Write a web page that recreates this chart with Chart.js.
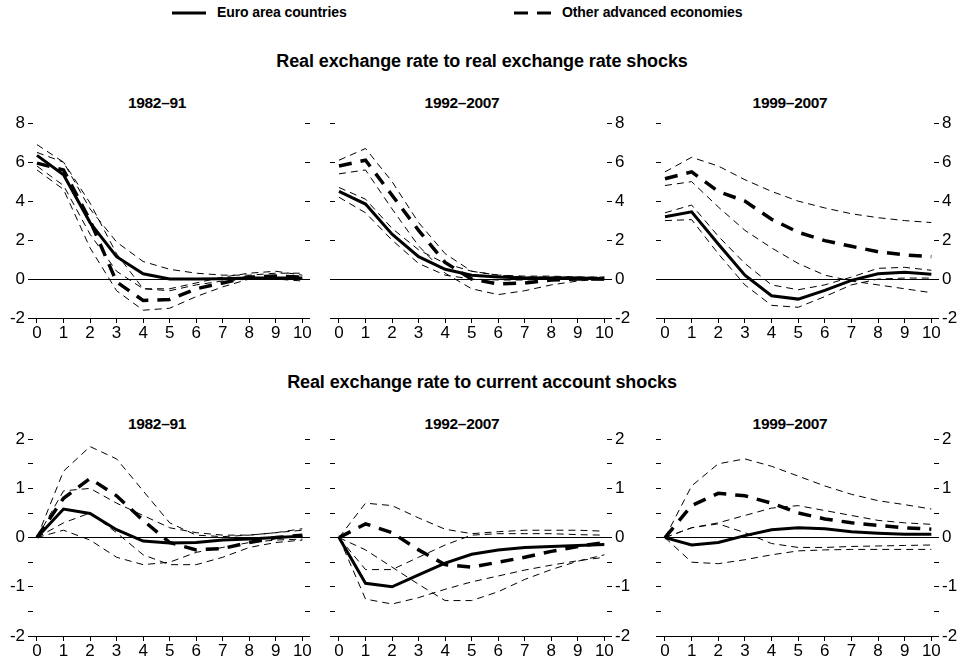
<!DOCTYPE html>
<html>
<head>
<meta charset="utf-8">
<script src="https://cdn.jsdelivr.net/npm/chart.js@4.4.1/dist/chart.umd.min.js"></script>
<style>
body{margin:0;background:#fff;font-family:"Liberation Sans",Arial,sans-serif;}
#wrap{position:relative;width:962px;height:660px;overflow:hidden;}
.t{position:absolute;font-weight:bold;white-space:nowrap;color:#000;transform:translateX(-50%);}
.lg{position:absolute;font-weight:bold;white-space:nowrap;font-size:14px;letter-spacing:-0.1px;}
canvas{position:absolute;}
</style>
</head>
<body>
<div id="wrap">
  <svg style="position:absolute;left:0;top:0" width="962" height="30">
    <line x1="172" y1="13" x2="206" y2="13" stroke="#000" stroke-width="3"/>
    <line x1="514" y1="13" x2="528" y2="13" stroke="#000" stroke-width="3"/>
    <line x1="537" y1="13" x2="551" y2="13" stroke="#000" stroke-width="3"/>
  </svg>
  <div class="lg" style="left:217px;top:4px">Euro area countries</div>
  <div class="lg" style="left:562px;top:4px">Other advanced economies</div>

  <div class="t" style="left:482px;top:51px;font-size:18px;letter-spacing:-0.1px">Real exchange rate to real exchange rate shocks</div>
  <div class="t" style="left:482px;top:372px;font-size:18px;letter-spacing:-0.1px">Real exchange rate to current account shocks</div>

  <div class="t" style="left:157px;top:94px;font-size:15.5px;letter-spacing:-0.3px">1982–91</div>
  <div class="t" style="left:462px;top:94px;font-size:15.5px;letter-spacing:-0.3px">1992–2007</div>
  <div class="t" style="left:790px;top:94px;font-size:15.5px;letter-spacing:-0.3px">1999–2007</div>
  <div class="t" style="left:157px;top:415px;font-size:15.5px;letter-spacing:-0.3px">1982–91</div>
  <div class="t" style="left:462px;top:415px;font-size:15.5px;letter-spacing:-0.3px">1992–2007</div>
  <div class="t" style="left:790px;top:415px;font-size:15.5px;letter-spacing:-0.3px">1999–2007</div>

  <canvas id="c1"></canvas><canvas id="c2"></canvas><canvas id="c3"></canvas>
  <canvas id="c4"></canvas><canvas id="c5"></canvas><canvas id="c6"></canvas>
</div>
<script>
var horizons = [0,1,2,3,4,5,6,7,8,9,10];

// real exchange rate to real exchange rate shocks
var rer8291Euro    = [6.35,5.35,2.9,1.15,0.27,0.0,0.0,0.02,0.05,0.05,0.05];
var rer8291EuroHi  = [6.9,6.0,3.6,1.9,0.9,0.5,0.3,0.2,0.2,0.3,0.3];
var rer8291EuroLo  = [5.8,4.8,2.3,0.4,-0.5,-0.6,-0.3,-0.1,0.0,0.0,0.0];
var rer8291Other   = [5.95,5.6,3.0,-0.15,-1.1,-1.05,-0.5,-0.2,0.1,0.15,0.1];
var rer8291OtherHi = [6.5,6.0,3.9,1.3,-0.5,-0.5,-0.2,0.1,0.3,0.4,0.2];
var rer8291OtherLo = [5.6,4.6,1.6,-0.6,-1.6,-1.5,-0.9,-0.4,0.0,0.0,-0.1];

var rer9207Euro    = [4.5,3.85,2.3,1.15,0.5,0.2,0.1,0.05,0.05,0.05,0.0];
var rer9207EuroHi  = [4.7,4.1,2.6,1.5,0.8,0.4,0.2,0.1,0.1,0.1,0.1];
var rer9207EuroLo  = [4.2,3.4,2.0,0.8,0.2,0.0,-0.05,-0.05,0.0,0.0,0.0];
var rer9207Other   = [5.8,6.1,4.3,2.5,0.85,0.0,-0.25,-0.2,-0.05,0.0,0.0];
var rer9207OtherHi = [6.1,6.7,5.0,2.9,1.3,0.4,0.2,0.15,0.15,0.1,0.1];
var rer9207OtherLo = [5.4,5.6,3.6,1.7,0.3,-0.5,-0.8,-0.6,-0.3,-0.1,0.0];

var rer9907Euro    = [3.2,3.45,1.8,0.2,-0.86,-1.03,-0.58,-0.07,0.27,0.35,0.24];
var rer9907EuroHi  = [3.4,3.8,2.2,0.8,-0.3,-0.55,-0.3,0.1,0.55,0.6,0.45];
var rer9907EuroLo  = [3.0,3.05,1.3,-0.3,-1.35,-1.45,-0.9,-0.3,0.0,0.05,0.05];
var rer9907Other   = [5.15,5.5,4.5,4.0,3.07,2.4,1.97,1.68,1.4,1.24,1.15];
var rer9907OtherHi = [5.5,6.25,5.8,5.1,4.5,4.0,3.65,3.35,3.15,3.0,2.9];
var rer9907OtherLo = [4.8,5.0,3.7,2.5,1.6,0.8,0.2,-0.1,-0.3,-0.5,-0.7];

// real exchange rate to current account shocks
var ca8291Euro    = [0,0.58,0.49,0.16,-0.07,-0.11,-0.1,-0.05,-0.03,0.0,0.03];
var ca8291EuroHi  = [0,0.95,1.0,0.7,0.45,0.2,0.1,0.05,0.05,0.1,0.18];
var ca8291EuroLo  = [0,0.3,0.5,0.1,-0.35,-0.55,-0.55,-0.4,-0.2,-0.1,-0.05];
var ca8291Other   = [0,0.8,1.2,0.85,0.35,-0.1,-0.25,-0.22,-0.1,0.0,0.05];
var ca8291OtherHi = [0,1.35,1.85,1.6,0.95,0.3,0.05,0.02,0.05,0.1,0.15];
var ca8291OtherLo = [0,0.15,-0.05,-0.4,-0.55,-0.5,-0.3,-0.2,-0.1,-0.05,-0.03];

var ca9207Euro    = [0,-0.93,-1.0,-0.76,-0.52,-0.34,-0.25,-0.2,-0.18,-0.16,-0.14];
var ca9207EuroHi  = [0,-0.65,-0.65,-0.4,-0.15,0.05,0.08,0.08,0.08,0.06,0.05];
var ca9207EuroLo  = [0,-1.25,-1.35,-1.22,-1.05,-0.9,-0.78,-0.66,-0.56,-0.47,-0.4];
var ca9207Other   = [0,0.28,0.1,-0.25,-0.55,-0.6,-0.5,-0.4,-0.28,-0.18,-0.1];
var ca9207OtherHi = [0,0.7,0.65,0.4,0.17,0.08,0.12,0.15,0.15,0.15,0.13];
var ca9207OtherLo = [0,-0.25,-0.6,-0.95,-1.28,-1.28,-1.1,-0.85,-0.65,-0.48,-0.35];

var ca9907Euro    = [0,-0.15,-0.1,0.04,0.16,0.2,0.18,0.12,0.09,0.07,0.07];
var ca9907EuroHi  = [0,0.2,0.28,0.1,-0.12,-0.2,-0.2,-0.18,-0.17,-0.16,-0.15];
var ca9907EuroLo  = [0,-0.5,-0.53,-0.45,-0.35,-0.27,-0.25,-0.24,-0.24,-0.24,-0.24];
var ca9907Other   = [0,0.65,0.9,0.85,0.7,0.5,0.38,0.3,0.25,0.2,0.17];
var ca9907OtherHi = [0,1.05,1.5,1.6,1.45,1.25,1.05,0.88,0.75,0.67,0.58];
var ca9907OtherLo = [0,0.2,0.3,0.45,0.6,0.65,0.55,0.45,0.35,0.3,0.27];

var FONT = {family:'"Liberation Sans", Arial, sans-serif', size:17};
Chart.defaults.color = '#000';

function band(d){ return {data:d, borderColor:'#000', borderWidth:1, borderDash:[7,5], pointRadius:0, tension:0}; }

function panel(id, left, top, w, h, leftW, rightW, labelSide, ymin, ymax, step, series){
    var cv = document.getElementById(id);
    cv.style.left = left+'px'; cv.style.top = top+'px';
    cv.width = w; cv.height = h;
    var pts = function(arr){ return arr.map(function(v,i){ return {x:horizons[i], y:v}; }); };
    var every = ymax > 4 ? 2 : 1;
    var yScale = function(pos, show){
        return {
            type:'linear', position:pos, min:ymin, max:ymax,
            border:{display:false},
            grid:{drawOnChartArea: pos==='left', tickLength:5, tickColor:'#000', lineWidth:1,
                  color:function(c){ return c.tick && c.tick.value===0 ? '#000' : 'rgba(0,0,0,0)'; }},
            ticks:{stepSize:step, padding:3, font:FONT,
                   callback:function(v){ return (show && Number.isInteger(v) && v % every === 0) ? String(v) : ''; }},
            afterFit:function(s){ s.width = pos==='left' ? leftW : rightW; }
        };
    };
    new Chart(cv, {
        type:'line',
        data:{datasets:[
            band(pts(series[1])), band(pts(series[2])),
            band(pts(series[4])), band(pts(series[5])),
            {data:pts(series[3]), borderColor:'#000', borderWidth:3.5, borderDash:[13,9], pointRadius:0, tension:0},
            {data:pts(series[0]), borderColor:'#000', borderWidth:3, pointRadius:0, tension:0}
        ]},
        options:{
            responsive:false, animation:false,
            layout:{padding:{top:12, left:0, right:0, bottom:0}},
            plugins:{legend:{display:false}, tooltip:{enabled:false}},
            scales:{
                x:{type:'linear', min:-0.15, max:10.1,
                   border:{display:true, color:'#000', width:1},
                   grid:{drawOnChartArea:false, tickLength:5, tickColor:'#000'},
                   ticks:{font:FONT, padding:0, maxRotation:0},
                   afterBuildTicks:function(s){ s.ticks = horizons.map(function(v){ return {value:v}; }); },
                   afterFit:function(s){ s.height = 22; }},
                y: yScale('left', labelSide==='left'),
                yr: yScale('right', labelSide==='right')
            }
        }
    });
}

panel('c1', 0, 110, 330, 230, 33, 25, 'left', -2, 8, 1,
      [rer8291Euro, rer8291EuroHi, rer8291EuroLo, rer8291Other, rer8291OtherHi, rer8291OtherLo]);
panel('c2', 320, 110, 320, 230, 15, 33, 'right', -2, 8, 1,
      [rer9207Euro, rer9207EuroHi, rer9207EuroLo, rer9207Other, rer9207OtherHi, rer9207OtherLo]);
panel('c3', 645, 110, 317, 230, 16, 28, 'right', -2, 8, 1,
      [rer9907Euro, rer9907EuroHi, rer9907EuroLo, rer9907Other, rer9907OtherHi, rer9907OtherLo]);
panel('c4', 0, 426, 330, 232, 33, 25, 'left', -2, 2, 0.5,
      [ca8291Euro, ca8291EuroHi, ca8291EuroLo, ca8291Other, ca8291OtherHi, ca8291OtherLo]);
panel('c5', 320, 426, 320, 232, 15, 33, 'right', -2, 2, 0.5,
      [ca9207Euro, ca9207EuroHi, ca9207EuroLo, ca9207Other, ca9207OtherHi, ca9207OtherLo]);
panel('c6', 645, 426, 317, 232, 16, 28, 'right', -2, 2, 0.5,
      [ca9907Euro, ca9907EuroHi, ca9907EuroLo, ca9907Other, ca9907OtherHi, ca9907OtherLo]);
</script>
</body>
</html>
